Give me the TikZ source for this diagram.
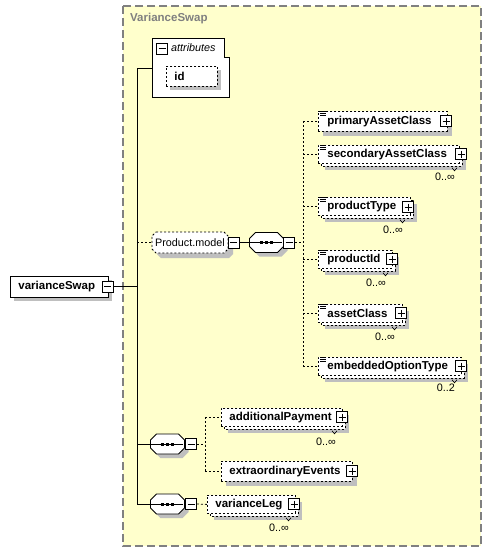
\documentclass[tikz,border=0pt]{standalone}
\usepackage{fontspec}
\setmainfont{Liberation Sans}
\definecolor{bgyellow}{RGB}{255,255,204}
\definecolor{xsframe}{RGB}{128,128,128}
\tikzset{
  xsBold/.style={font=\bfseries\fontsize{11.5}{13}\selectfont},
  xsReg/.style={font=\fontsize{10.8}{13}\selectfont},
  xsDash/.style={dash pattern=on 2pt off 2pt},
  xsConn/.style={line width=0.9pt},
  xsDConn/.style={line width=0.8pt, dash pattern=on 2pt off 2pt},
  xsElem/.style={draw, fill=white, rectangle, line width=0.8pt, inner xsep=0pt, inner ysep=0pt, align=left, anchor=north west, xsBold},
  xsSingle/.style={xsElem, xsDash, minimum height=20pt},
  xsMulti/.style={xsElem, xsDash, minimum height=18pt},
  xsSolid/.style={xsElem, minimum height=21pt},
  xsPM/.style={draw, fill=white, rectangle, minimum size=11pt, inner sep=0pt, line width=1pt},
  xsMinus/.style={xsPM, path picture={\draw[line width=0.8pt] ([xshift=2pt]path picture bounding box.west) -- ([xshift=-2pt]path picture bounding box.east);}},
  xsPlus/.style={xsPM, path picture={\draw[line width=0.8pt] ([xshift=2pt]path picture bounding box.west) -- ([xshift=-2pt]path picture bounding box.east) ([yshift=-2pt]path picture bounding box.north) -- ([yshift=2pt]path picture bounding box.south);}},
  xsSeq/.style={rectangle, minimum width=34pt, minimum height=20pt, inner sep=0pt},
  xsGroup/.style={rectangle, minimum width=76pt, minimum height=21pt, inner sep=0pt, xsReg},
  xsCard/.style={xsReg, inner sep=0pt, anchor=east}
}
\begin{document}
\begin{tikzpicture}[x=1pt,y=-1pt]
\useasboundingbox (0,0) rectangle (493,552);

% container
\draw[xsframe, line width=1.2pt, dash pattern=on 8pt off 4pt, fill=bgyellow] (123,6) rectangle (481,546);
\node[anchor=west, inner sep=0pt, text=xsframe, xsBold] (title) at (130,19) {VarianceSwap};

% ---- shadows and stacked back boxes (drawn first) ----
\path[fill=black!25] (14,280) rectangle (112,301);
\path[fill=black!25] (323,116) rectangle (452,136);
\path[fill=black!25] (226,466) rectangle (357,486);
\foreach \x/\y/\w in {318/145/141, 318/197/92, 318/250/74, 318/304/84, 318/357/143, 221/408/121, 207/495/88}{
  \path[fill=black!25] (\x+7,\y+7) rectangle ++(\w,18);
  \draw[fill=white, line width=0.8pt, xsDash] (\x+3,\y+3) rectangle ++(\w,18);
}
\foreach \cx/\cy in {266.5/242.5, 167.5/444, 167.5/504}{
  \path[fill=black!25, shift={(\cx+4,\cy+4)}] (-11,-10) -- (11,-10) -- (17,-4) -- (17,4) -- (11,10) -- (-11,10) -- (-17,4) -- (-17,-4) -- cycle;
  \draw[fill=white, line width=0.8pt, shift={(\cx,\cy)}] (-11,-10) -- (11,-10) -- (17,-4) -- (17,4) -- (11,10) -- (-11,10) -- (-17,4) -- (-17,-4) -- cycle;
}
\path[fill=black!25, shift={(195,247.5)}] (-34,-10.5) -- (34,-10.5) -- (38,-6.5) -- (38,6.5) -- (34,10.5) -- (-34,10.5) -- (-38,6.5) -- (-38,-6.5) -- cycle;
\draw[fill=white, line width=0.8pt, xsDash, shift={(190,242.5)}] (-34,-10.5) -- (34,-10.5) -- (38,-6.5) -- (38,6.5) -- (34,10.5) -- (-34,10.5) -- (-38,6.5) -- (-38,-6.5) -- cycle;

% root
\node[xsSolid, text width=98pt] (vs) at (10,276) {\hspace*{8pt}varianceSwap};
\node[xsMinus] (vsm) at (107.5,286.5) {};

% attributes
\draw[fill=white, line width=0.9pt] (152,38) -- (224,38) -- (224,57) -- (229,57) -- (229,97) -- (152,97) -- cycle;
\node[xsMinus] (attm) at (162,48.5) {};
\node[anchor=west, inner sep=0pt, font=\itshape\fontsize{10.8}{13}\selectfont] (atttxt) at (171,48) {attributes};
\path[fill=black!25] (170,70) rectangle (221,90);
\node[xsSingle, text width=51pt] (id) at (166,66) {\hspace*{8pt}id};
\coordinate (attL) at (152,68);

% trunk
\coordinate (t1) at (137,68);
\coordinate (t4) at (137,504);
\draw[xsConn] (vsm.east) -- (vsm.east -| t1);
\draw[xsConn] (t1) -- (t4);
\draw[xsConn] (t1) -- (attL);

% Product.model group
\node[xsGroup] (pm) at (190,242.5) {Product.model};
\node[xsMinus] (pmm) at (233.5,242.5) {};
\draw[xsDConn] (t1 |- pm.west) -- ([xshift=-1pt]pm.west);
\node[xsSeq] (s1) at (266.5,242.5) {};
\node[xsMinus] (s1m) at (289,242.5) {};
\draw[xsConn] (pmm.east) -- (s1.west);
\coordinate (v1) at (303,242.5);
\draw[xsDConn] (s1m.east) -- (v1);

% children of sequence 1
\node[xsSingle, text width=129pt] (pac) at (318,111) {\hspace*{9pt}primaryAssetClass};
\node[xsPlus] (pacp) at (446,121) {};

\node[xsMulti, text width=141pt] (sac) at (318,145) {\hspace*{9pt}secondaryAssetClass};
\node[xsPlus] (sacp) at (461,154) {};
\node[xsCard] (sacc) at (455,177) {0..∞};

\node[xsMulti, text width=92pt] (pt) at (318,197) {\hspace*{9pt}productType};
\node[xsPlus] (ptp) at (408,207) {};
\node[xsCard] (ptc) at (403,230) {0..∞};

\node[xsMulti, text width=74pt] (pid) at (318,250) {\hspace*{9pt}productId};
\node[xsPlus] (pidp) at (392,259) {};
\node[xsCard] (pidc) at (386,283) {0..∞};

\node[xsMulti, text width=84pt] (ac) at (318,304) {\hspace*{9pt}assetClass};
\node[xsPlus] (acp) at (401,313) {};
\node[xsCard] (acc) at (395,337) {0..∞};

\node[xsMulti, text width=143pt] (eot) at (318,357) {\hspace*{9pt}embeddedOptionType};
\node[xsPlus] (eotp) at (461,366) {};
\node[xsCard] (eotc) at (455,388) {0..2};

\foreach \n in {pac,sac,pt,pid,ac,eot}{
  \draw[line width=0.6pt] ([xshift=2pt,yshift=-0.6pt]\n.north west) -- ++(6,0);
  \draw[line width=0.6pt] ([xshift=2pt,yshift=-2.6pt]\n.north west) -- ++(6,0);
  \draw[line width=0.6pt] ([xshift=2pt,yshift=-4.6pt]\n.north west) -- ++(6,0);
  \draw[xsDConn] (\n.west -| v1) -- (\n.west);
}
\draw[xsDConn] (pac.west -| v1) -- (eot.west -| v1);

% sequence 2
\node[xsSeq] (s2) at (167.5,444) {};
\node[xsMinus] (s2m) at (191,444) {};
\draw[xsConn] (t1 |- s2.west) -- (s2.west);
\coordinate (v2) at (205,444);
\draw[xsDConn] (s2m.east) -- (v2);
\node[xsMulti, text width=121pt] (ap) at (221,408) {\hspace*{8pt}additionalPayment};
\node[xsPlus] (app) at (342,417) {};
\node[xsCard] (apc) at (336,442) {0..∞};
\node[xsSingle, text width=131pt] (ee) at (221,461) {\hspace*{8pt}extraordinaryEvents};
\node[xsPlus] (eep) at (352,471) {};
\draw[xsDConn] (ap.west -| v2) -- (ap.west);
\draw[xsDConn] (ee.west -| v2) -- (ee.west);
\draw[xsDConn] (ap.west -| v2) -- (ee.west -| v2);

% sequence 3
\node[xsSeq] (s3) at (167.5,504) {};
\node[xsMinus] (s3m) at (191,504) {};
\draw[xsConn] (t4) -- (s3.west);
\node[xsMulti, text width=88pt] (vl) at (207,495) {\hspace*{8pt}varianceLeg};
\node[xsPlus] (vlp) at (294,504) {};
\node[xsCard] (vlc) at (289,528) {0..∞};
\draw[xsDConn] (s3m.east) -- (vl.west);

% sequence symbols (line and dots)
\foreach \s in {s1,s2,s3}{
  \draw[line width=0.8pt] ([xshift=1pt]\s.west) -- ([xshift=-2pt]\s.east);
  \foreach \dx in {-5,0,5}{\fill ([xshift=\dx pt]\s.center) +(-1.5,-1.5) rectangle +(1.5,1.5);}
}

% cardinality ticks
\foreach \n/\dx in {sac/134,pt/82,pid/65,ac/74,eot/134,ap/111,vl/79}{
  \draw[line width=0.6pt] ([xshift=\dx pt,yshift=-4pt]\n.south west) -- ++(2.5,3) -- ++(2.5,-3);
}
\end{tikzpicture}
\end{document}
